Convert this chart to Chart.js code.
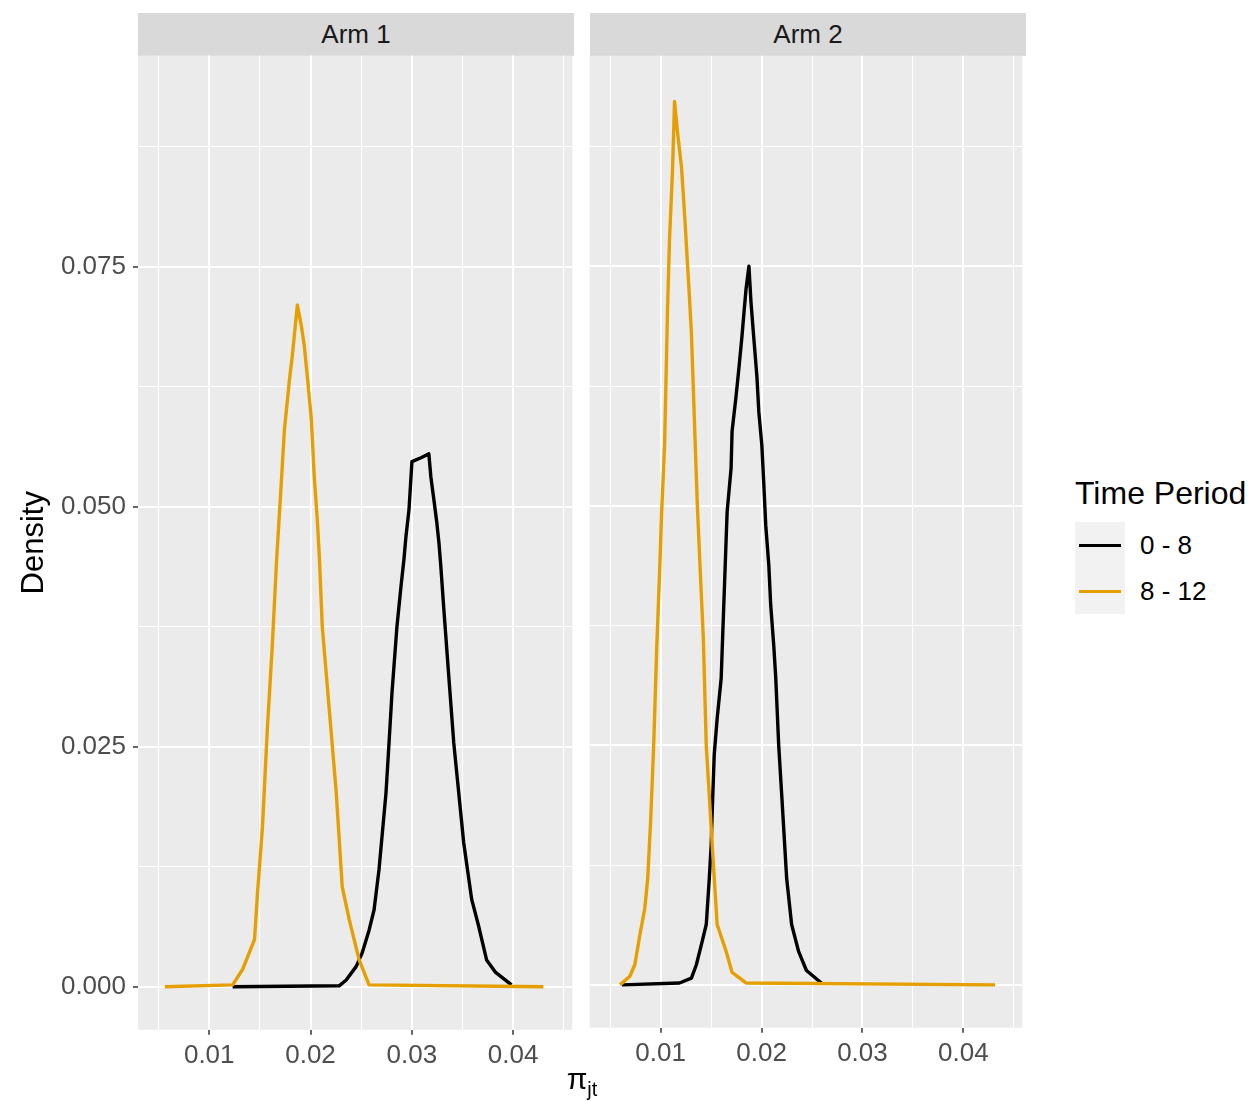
<!DOCTYPE html>
<html>
<head>
<meta charset="utf-8">
<script src="https://cdn.jsdelivr.net/npm/chart.js@4/dist/chart.umd.min.js"></script>
<style>
html,body{margin:0;padding:0;background:#ffffff;}
#root{position:relative;width:1254px;height:1102px;overflow:hidden;font-family:"Liberation Sans",Arial,sans-serif;background:#fff;}
.wrap{position:absolute;left:0;top:0;}
.strip{position:absolute;top:13px;height:43px;background:#D9D9D9;color:#1A1A1A;font-size:26px;line-height:43px;text-align:center;}
.lt{position:absolute;color:#000;}
.kbox{position:absolute;left:1075px;width:50px;height:46px;background:#F2F2F2;}
.kline{position:absolute;left:4px;top:21.5px;width:42px;height:3px;}
</style>
</head>
<body>
<div id="root">
  <div class="strip" style="left:138px;width:436px;">Arm 1</div>
  <div class="strip" style="left:590px;width:436px;">Arm 2</div>
  <div class="wrap" id="w1"><canvas id="c1" width="620" height="1102"></canvas></div>
  <div class="wrap" id="w2"><canvas id="c2" width="500" height="1102"></canvas></div>
  <div class="lt" style="left:482px;width:200px;top:1062px;text-align:center;font-size:30px;line-height:34px;">π<sub style="font-size:20px;">jt</sub></div>
  <div class="lt" style="left:1075px;top:474px;font-size:32px;line-height:38px;white-space:nowrap;">Time Period</div>
  <div class="kbox" style="top:522px;"><div class="kline" style="background:#000000;"></div></div>
  <div class="kbox" style="top:568px;"><div class="kline" style="background:#E69F00;"></div></div>
  <div class="lt" style="left:1140px;top:530px;font-size:26px;line-height:30px;white-space:nowrap;">0 - 8</div>
  <div class="lt" style="left:1140px;top:576px;font-size:26px;line-height:30px;white-space:nowrap;">8 - 12</div>
</div>
<script>
// ---- Data ----
const seriesLabels = ['0 - 8', '8 - 12'];
const panelLabels = ['Arm 1', 'Arm 2'];

// Arm 1, period 0 - 8
const arm1P08X = [0.01231,0.02283,0.02352,0.02450,0.02509,0.02578,0.02627,0.02676,0.02745,0.02775,0.02804,0.02853,0.02893,0.02922,0.02942,0.02972,0.03001,0.03090,0.03168,0.03188,0.03218,0.03247,0.03267,0.03286,0.03316,0.03365,0.03414,0.03463,0.03512,0.03591,0.03660,0.03738,0.03827,0.03984];
const arm1P08Y = [0,0.0001,0.0007,0.0021,0.0035,0.0059,0.0080,0.0122,0.0202,0.0254,0.0306,0.0375,0.0417,0.0445,0.0469,0.0497,0.0547,0.0551,0.0555,0.0531,0.0507,0.0483,0.0463,0.0438,0.0393,0.0323,0.0254,0.0202,0.0150,0.0091,0.0063,0.0028,0.0015,0.0002];
// Arm 1, period 8 - 12
const arm1P812X = [0.00562,0.01231,0.01329,0.01447,0.01477,0.01526,0.01575,0.01624,0.01664,0.01713,0.01742,0.01792,0.01821,0.01870,0.01910,0.01939,0.01969,0.02008,0.02037,0.02067,0.02087,0.02116,0.02185,0.02254,0.02313,0.02382,0.02480,0.02578,0.04299];
const arm1P812Y = [0,0.0002,0.0018,0.0049,0.0098,0.0167,0.0271,0.0358,0.0442,0.0528,0.0580,0.0632,0.0658,0.0710,0.0688,0.0667,0.0635,0.0591,0.0531,0.0486,0.0448,0.0375,0.0289,0.0202,0.0104,0.0070,0.0028,0.0002,0];
// Arm 2, period 0 - 8
const arm2P08X = [0.00617,0.01187,0.01305,0.01354,0.01413,0.01452,0.01482,0.01501,0.01511,0.01531,0.01560,0.01600,0.01629,0.01659,0.01698,0.01708,0.01747,0.01777,0.01806,0.01826,0.01846,0.01875,0.01895,0.01924,0.01954,0.01973,0.02003,0.02023,0.02042,0.02072,0.02091,0.02121,0.02141,0.02170,0.02200,0.02249,0.02298,0.02367,0.02445,0.02593];
const arm2P08Y = [0,0.0002,0.0007,0.0021,0.0046,0.0063,0.0111,0.0146,0.0181,0.0240,0.0278,0.0320,0.0406,0.0494,0.0539,0.0578,0.0614,0.0645,0.0677,0.0702,0.0726,0.0750,0.0713,0.0674,0.0635,0.0598,0.0563,0.0521,0.0479,0.0438,0.0396,0.0354,0.0320,0.0250,0.0198,0.0111,0.0063,0.0035,0.0015,0.0002];
// Arm 2, period 8 - 12
const arm2P812X = [0.00597,0.00695,0.00744,0.00794,0.00843,0.00872,0.00902,0.00931,0.00961,0.00990,0.01010,0.01039,0.01069,0.01088,0.01118,0.01138,0.01167,0.01206,0.01226,0.01246,0.01265,0.01285,0.01305,0.01324,0.01344,0.01364,0.01393,0.01423,0.01452,0.01482,0.01511,0.01560,0.01649,0.01708,0.01846,0.04314];
const arm2P812Y = [0,0.0009,0.0021,0.0052,0.0080,0.0111,0.0174,0.0250,0.0351,0.0431,0.0494,0.0563,0.0708,0.0778,0.0851,0.0922,0.0890,0.0854,0.0823,0.0789,0.0754,0.0719,0.0680,0.0622,0.0560,0.0500,0.0431,0.0362,0.0250,0.0198,0.0146,0.0063,0.0035,0.0013,0.0002,0];

// Tick values / labels
const xMajor = [0.01, 0.02, 0.03, 0.04];
const xMajorLabels = ['0.01', '0.02', '0.03', '0.04'];
const xMinor = [0.005, 0.015, 0.025, 0.035, 0.045];
const yMajor = [0, 0.025, 0.05, 0.075];
const yMajorLabels = ['0.000', '0.025', '0.050', '0.075'];
const yMinor = [0.0125, 0.0375, 0.0625, 0.0875];
const xLimits = [0.00297, 0.04584];
const yLimits = [-0.00448, 0.09698];

// ---- Rendering ----
const FONT = '"Liberation Sans", Arial, sans-serif';
const xAll = xMajor.concat(xMinor).sort((a,b)=>a-b);
const yAll = yMajor.concat(yMinor).sort((a,b)=>a-b);
function idxOf(list, v){ return list.findIndex(m => Math.abs(m - v) < 1e-9); }
function tickVal(c){ return c && c.tick ? c.tick.value : NaN; }

const bgPlugin = {
  id: 'panelBg',
  beforeDraw(chart){
    const {ctx, chartArea: a} = chart;
    ctx.save();
    ctx.fillStyle = '#EBEBEB';
    ctx.fillRect(a.left, a.top, a.right - a.left, a.bottom - a.top);
    ctx.restore();
  }
};

function pts(xs, ys){ return xs.map((x, i) => ({x: x, y: ys[i]})); }

function makeChart(id, x08, y08, x812, y812, showY){
  return new Chart(document.getElementById(id), {
    type: 'line',
    data: { datasets: [
      { label: seriesLabels[0], data: pts(x08, y08), borderColor: '#000000', borderWidth: 3.4,
        pointRadius: 0, tension: 0, fill: false, order: 2, borderJoinStyle: 'round' },
      { label: seriesLabels[1], data: pts(x812, y812), borderColor: '#E69F00', borderWidth: 3.4,
        pointRadius: 0, tension: 0, fill: false, order: 1, borderJoinStyle: 'round' }
    ]},
    options: {
      responsive: false, animation: false, maintainAspectRatio: false,
      layout: { padding: 0 },
      events: [],
      plugins: { legend: { display: false }, tooltip: { enabled: false } },
      scales: {
        x: {
          type: 'linear', min: xLimits[0], max: xLimits[1],
          afterBuildTicks: s => { s.ticks = xAll.map(v => ({value: v})); },
          ticks: { autoSkip: false, maxRotation: 0, minRotation: 0, padding: 5, color: '#4D4D4D',
            font: { family: FONT, size: 26 },
            callback: v => { const i = idxOf(xMajor, v); return i >= 0 ? xMajorLabels[i] : ''; } },
          grid: { color: '#FFFFFF', lineWidth: c => idxOf(xMajor, tickVal(c)) >= 0 ? 2 : 1,
            drawTicks: true, tickLength: 5, tickWidth: 1.5,
            tickColor: c => idxOf(xMajor, tickVal(c)) >= 0 ? '#333333' : 'rgba(0,0,0,0)' },
          border: { display: false }
        },
        y: {
          type: 'linear', min: yLimits[0], max: yLimits[1],
          afterBuildTicks: s => { s.ticks = yAll.map(v => ({value: v})); },
          afterFit: s => { s.width = showY ? 138 : 0; },
          title: { display: showY, text: 'Density', color: '#000000', font: { family: FONT, size: 31 }, padding: { top: 16, bottom: 0 } },
          ticks: { display: showY, autoSkip: false, padding: 7, color: '#4D4D4D',
            font: { family: FONT, size: 26 },
            callback: v => { const i = idxOf(yMajor, v); return i >= 0 ? yMajorLabels[i] : ''; } },
          grid: { color: '#FFFFFF', lineWidth: c => idxOf(yMajor, tickVal(c)) >= 0 ? 2 : 1,
            drawTicks: showY, tickLength: 5, tickWidth: 1.5,
            tickColor: c => idxOf(yMajor, tickVal(c)) >= 0 ? '#333333' : 'rgba(0,0,0,0)' },
          border: { display: false }
        }
      }
    },
    plugins: [bgPlugin]
  });
}

function place(chart, wrapId, left, top, w, h){
  let a = chart.chartArea;
  const nw = Math.round(chart.width + (w - (a.right - a.left)));
  const nh = Math.round(chart.height + (h - (a.bottom - a.top)));
  chart.resize(nw, nh);
  a = chart.chartArea;
  const wrap = document.getElementById(wrapId);
  wrap.style.left = (left - a.left) + 'px';
  wrap.style.top = (top - a.top) + 'px';
}

const ch1 = makeChart('c1', arm1P08X, arm1P08Y, arm1P812X, arm1P812Y, true);
const ch2 = makeChart('c2', arm2P08X, arm2P08Y, arm2P812X, arm2P812Y, false);
place(ch1, 'w1', 138, 56, 436, 974);
place(ch2, 'w2', 590, 56, 436, 974);
</script>
</body>
</html>
